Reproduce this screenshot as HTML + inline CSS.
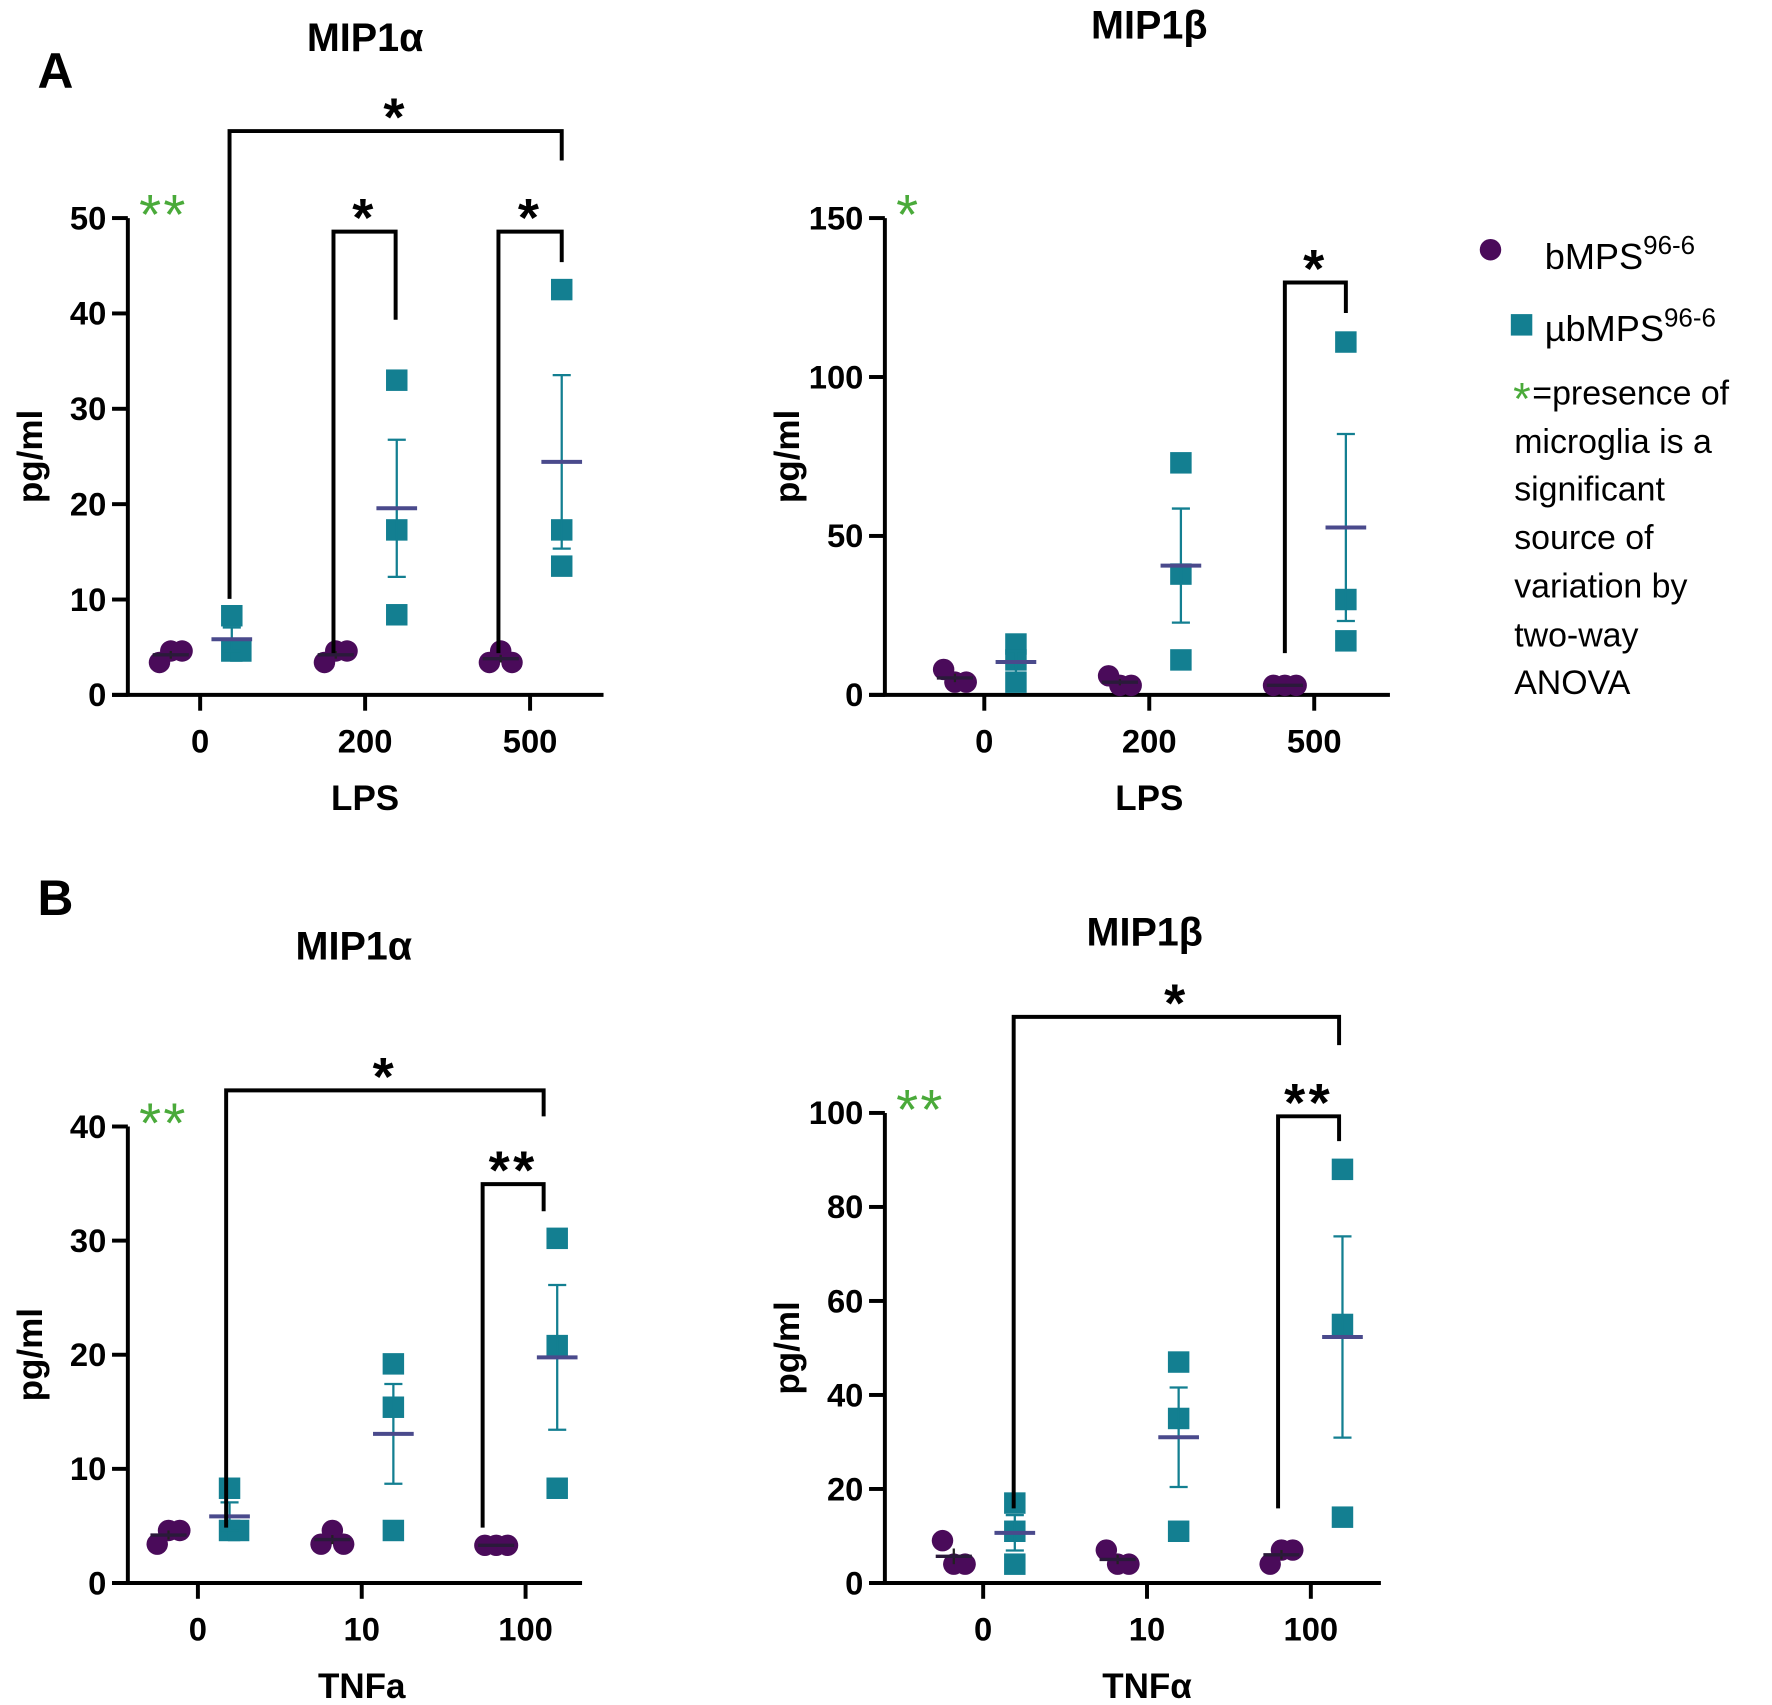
<!DOCTYPE html>
<html><head><meta charset="utf-8"><style>
html,body{margin:0;padding:0;background:#fff}
svg{display:block}
text{font-family:"Liberation Sans",sans-serif}
</style></head><body>
<svg id="fig" width="1772" height="1705" viewBox="0 0 1568 1509">
<g id="static"></g>
</svg>
<script>
// ---- data ----
const panelATitles = ["MIP1α","MIP1β"];
const lpsCategories = ["0","200","500"];
const tnfCategories = ["0","10","100"];
const aLeftB = [[3.4,4.6,4.6],[3.4,4.6,4.6],[3.4,4.6,3.4]];
const aLeftU = [[8.3,4.6,4.6],[33,17.3,8.4],[42.5,17.3,13.5]];
const aLeftTicks = [0,10,20,30,40,50];
const aRightB = [[8,4,4],[6,3,3],[3,3,3]];
const aRightU = [[16,11,4],[73,38,11],[111,30,17]];
const aRightTicks = [0,50,100,150];
const bLeftB = [[3.4,4.6,4.6],[3.4,4.6,3.4],[3.3,3.3,3.3]];
const bLeftU = [[8.3,4.6,4.6],[19.2,15.4,4.6],[30.2,20.8,8.3]];
const bLeftTicks = [0,10,20,30,40];
const bRightB = [[9,4,4],[7,4,4],[4,7,7]];
const bRightU = [[17,11,4],[47,35,11],[88,55,14]];
const bRightTicks = [0,20,40,60,80,100];

const NS="http://www.w3.org/2000/svg";
const svg=document.getElementById('fig');
function el(tag,attrs,parent,txt){const e=document.createElementNS(NS,tag);for(const k in attrs)e.setAttribute(k,attrs[k]);if(txt!==undefined)e.textContent=txt;(parent||svg).appendChild(e);return e;}
const PURPLE="#4a0b5a",TEAL="#137f91",MEAN="#4a4a8c";

function mean(a){return a.reduce((s,v)=>s+v,0)/a.length;}
function sem(a){const m=mean(a);const v=a.reduce((s,x)=>s+(x-m)*(x-m),0)/(a.length-1);return Math.sqrt(v/a.length);}

function panel(cfg){
  const g=el('g',{});
  
  
  const ymax=cfg.ticks[cfg.ticks.length-1];
  const Y=v=>cfg.y0-(v/ymax)*(cfg.y0-cfg.yTop);
  const X=i=>cfg.xt[0]+i*(cfg.xt[1]-cfg.xt[0]);
  const ya=el('line',{x1:cfg.ax,y1:cfg.yTop,x2:cfg.ax,y2:cfg.y0+1.5,stroke:'#000','stroke-width':3.5},g);
  
  const xa=el('line',{x1:cfg.ax-14,y1:cfg.y0,x2:cfg.xEnd,y2:cfg.y0,stroke:'#000','stroke-width':3.5},g);
  
  cfg.ticks.forEach(t=>{
    el('line',{x1:cfg.ax-14,y1:Y(t),x2:cfg.ax,y2:Y(t),stroke:'#000','stroke-width':3.5},g);
    const tl=el('text',{x:cfg.ax-19,y:Y(t)+10,'text-anchor':'end','font-size':29,'font-weight':'bold'},g,t);
    
  });
  cfg.cats.forEach((c,i)=>{
    el('line',{x1:X(i),y1:cfg.y0,x2:X(i),y2:cfg.y0+14,stroke:'#000','stroke-width':3.5},g);
    const tl=el('text',{x:X(i),y:cfg.y0+51,'text-anchor':'middle','font-size':29,'font-weight':'bold'},g,c);
    
  });
  const yl=el('text',{transform:`translate(${cfg.ax-76},${(cfg.y0+cfg.yTop)/2}) rotate(-90)`,'text-anchor':'middle','font-size':31,'font-weight':'bold'},g,'pg/ml');
  
  const xl=el('text',{x:X(1),y:cfg.y0+102,'text-anchor':'middle','font-size':31,'font-weight':'bold'},g,cfg.xlabel);
  
  const ti=el('text',{x:cfg.tx,y:cfg.ty,'text-anchor':'middle','font-size':35,'font-weight':'bold'},g,cfg.title);
  
  const gs=el('text',{x:cfg.ax+10,y:cfg.yTop+14,'font-size':50,fill:'#4aaa3a','letter-spacing':'2'},g,cfg.green);
  
  cfg.b.forEach((arr,i)=>{
    const cx=X(i)-26;
    arr.forEach((v,j)=>{
      const c=el('circle',{cx:cx+[-10,0,10][j],cy:Y(v),r:9.5,fill:PURPLE},g);
      
    });
    const m=mean(arr),s=sem(arr);
    el('line',{x1:cx,y1:Y(m+s),x2:cx,y2:Y(m-s),stroke:'#222','stroke-width':2},g);
    const ml=el('line',{x1:cx-16,y1:Y(m),x2:cx+16,y2:Y(m),stroke:'#2a1a3a','stroke-width':3},g);
    
  });
  cfg.u.forEach((arr,i)=>{
    const cx=X(i)+28;
    const m=mean(arr),s=sem(arr);
    arr.forEach((v,j)=>{
      const dx=(Math.abs(Y(v)-Y(arr[(j+1)%3]))<14||Math.abs(Y(v)-Y(arr[(j+2)%3]))<14)?[-8,0,8][j]:0;
      const r=el('rect',{x:cx+dx-9.5,y:Y(v)-9.5,width:19,height:19,fill:TEAL},g);
      
    });
    const eb=el('path',{d:`M${cx},${Y(m+s)}V${Y(m-s)}M${cx-8},${Y(m+s)}H${cx+8}M${cx-8},${Y(m-s)}H${cx+8}`,stroke:TEAL,'stroke-width':2,fill:'none'},g);
    
    const ml=el('line',{x1:cx-18,y1:Y(m),x2:cx+18,y2:Y(m),stroke:MEAN,'stroke-width':3.5},g);
    
  });
  cfg.brackets.forEach(b=>{
    const p=el('path',{d:`M${b[0]},${b[1]}V${b[2]}H${b[3]}V${b[4]}`,stroke:'#000','stroke-width':3.5,fill:'none'},g);
    
    const t=el('text',{x:(b[0]+b[3])/2,y:b[2]+4,'text-anchor':'middle','font-size':48,'font-weight':'bold','letter-spacing':'3'},g,b[5]);
    
  });
}

panel({name:'panel-a-mip1a',ax:113,y0:615,yTop:193,xEnd:534,xt:[177,323],ticks:aLeftTicks,cats:lpsCategories,b:aLeftB,u:aLeftU,
  xlabel:'LPS',title:panelATitles[0],tx:323,ty:45,green:'**',
  brackets:[[203,530,116,497,142,'*'],[295,578,205,350,283,'*'],[441,578,205,497,232,'*']]});
panel({name:'panel-a-mip1b',ax:783,y0:615,yTop:193,xEnd:1230,xt:[871,1017],ticks:aRightTicks,cats:lpsCategories,b:aRightB,u:aRightU,
  xlabel:'LPS',title:panelATitles[1],tx:1017,ty:34,green:'*',
  brackets:[[1137,578,250,1191,277,'*']]});
panel({name:'panel-b-mip1a',ax:113,y0:1401,yTop:997,xEnd:515,xt:[175,320],ticks:bLeftTicks,cats:tnfCategories,b:bLeftB,u:bLeftU,
  xlabel:'TNFa',title:'MIP1α',tx:313,ty:849,green:'**',
  brackets:[[200,1352,965,481,988,'*'],[427,1352,1048,481,1072,'**']]});
panel({name:'panel-b-mip1b',ax:783,y0:1401,yTop:985,xEnd:1222,xt:[870,1015],ticks:bRightTicks,cats:tnfCategories,b:bRightB,u:bRightU,
  xlabel:'TNFα',title:'MIP1β',tx:1013,ty:837,green:'**',
  brackets:[[897,1335,900,1185,925,'*'],[1131,1335,988,1185,1010,'**']]});

let t=el('text',{x:33,y:78,'font-size':44,'font-weight':'bold'},svg,'A');

t=el('text',{x:33,y:810,'font-size':44,'font-weight':'bold'},svg,'B');


const lg=el('g',{});

el('circle',{cx:1319,cy:221,r:9.5,fill:PURPLE},lg);
t=el('text',{x:1367,y:238,'font-size':32},lg);

t.innerHTML='bMPS<tspan dy="-13" font-size="23">96-6</tspan>';
el('rect',{x:1337,y:278,width:19,height:19,fill:TEAL},lg);
t=el('text',{x:1367,y:302,'font-size':32},lg);

t.innerHTML='µbMPS<tspan dy="-13" font-size="23">96-6</tspan>';
const note=['=presence of','microglia is a','significant','source of','variation by','two-way','ANOVA'];
const ly=[358,401,443,486,529,572,614];
note.forEach((s,i)=>{
  const n=el('text',{x:i===0?1356:1340,y:ly[i],'font-size':30},lg,s);
  
});
t=el('text',{x:1339,y:367,'font-size':40,fill:'#4aaa3a'},lg,'*');

</script>
</body></html>
